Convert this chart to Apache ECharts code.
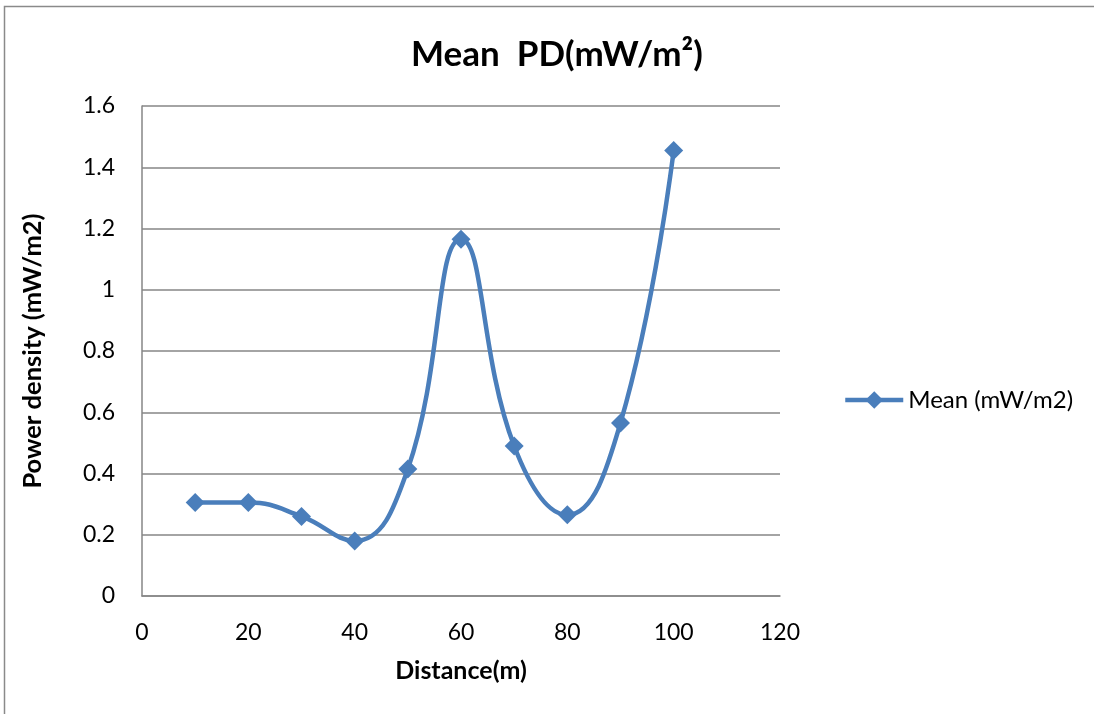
<!DOCTYPE html>
<html><head><meta charset="utf-8">
<script src="https://cdn.jsdelivr.net/npm/echarts@6/dist/echarts.min.js"></script>
<style>html,body{margin:0;padding:0;background:#fff}#c{width:1094px;height:714px}</style>
</head><body><div id="c"></div>
<script>
const distances = [10, 20, 30, 40, 50, 60, 70, 80, 90, 100];
const meanPD = [0.305, 0.305, 0.26, 0.18, 0.415, 1.165, 0.49, 0.265, 0.565, 1.455];
const seriesName = 'Mean (mW/m2)';
const chart = echarts.init(document.getElementById('c'));
const font = 'Lato';
chart.setOption({
  animation: false,
  backgroundColor: '#fff',
  graphic: [{type:'rect', shape:{x:4.5, y:6.5, width:1200, height:900}, style:{fill:'none', stroke:'#8a8a8a', lineWidth:1.5}, silent:true}],
  title: {text: 'Mean  PD(mW/m²)', left: 406, top: 32, textStyle:{fontFamily:font, fontWeight:'bold', fontSize:35, color:'#000'}},
  legend: {orient:'vertical', left: 838, top: 383, itemWidth: 58, itemHeight: 22, itemGap: 6,
    lineStyle:{width:4.5},
    textStyle:{fontFamily:font, fontSize:24, color:'#000'}, data:[seriesName]},
  grid: {left:142, right:314, top:106, bottom:118},
  xAxis: {type:'value', min:0, max:120, interval:20,
    name:'Distance(m)', nameLocation:'middle', nameGap:62,
    nameTextStyle:{fontFamily:font, fontWeight:'bold', fontSize:25, color:'#000'},
    axisLine:{show:true, lineStyle:{color:'#868686', width:1.5}}, axisTick:{show:false},
    axisLabel:{margin:25, fontFamily:font, fontSize:23, color:'#000'}, splitLine:{show:false}},
  yAxis: {type:'value', min:0, max:1.6, interval:0.2,
    name:'Power density (mW/m2)', nameLocation:'middle', nameGap:96,
    nameTextStyle:{fontFamily:font, fontWeight:'bold', fontSize:25.5, color:'#000'},
    axisLine:{show:true, lineStyle:{color:'#868686', width:1.5}}, axisTick:{show:false},
    axisLabel:{margin:27, fontFamily:font, fontSize:23, color:'#000'},
    splitLine:{show:true, lineStyle:{color:'#868686', width:1.5}}},
  series: [{name: seriesName, type:'line', smooth:0.45,
    data: distances.map((d,i)=>[d, meanPD[i]]),
    symbol:'diamond', symbolSize:19,
    lineStyle:{color:'#4A7EBB', width:4.5}, itemStyle:{color:'#4A7EBB'}}]
});
</script></body></html>
